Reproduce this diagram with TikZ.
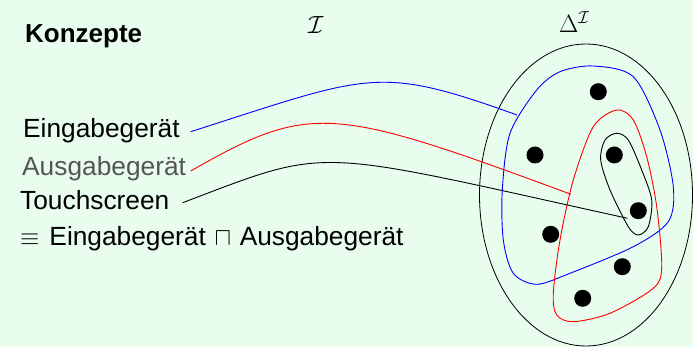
\documentclass[tikz,border=0pt]{standalone}
\usepackage{fontspec}
\setmainfont{Liberation Sans}
\usepackage{amssymb}
\definecolor{bgmint}{RGB}{232,253,238}
\definecolor{greytext}{RGB}{85,85,85}
\begin{document}
\begin{tikzpicture}[x=1pt,y=-1pt,
  lbl/.style={anchor=base west,inner sep=0pt,font=\fontsize{26.3}{30}\selectfont},
  dotnode/.style={circle,fill=black,inner sep=0pt,minimum size=17pt},
  conn/.style={line width=0.9pt},
  region/.style={line width=0.9pt}]
\fill[bgmint] (0,0) rectangle (693,347);
\useasboundingbox (0,0) rectangle (693,347);
% titles
\node[lbl,font=\fontsize{26}{30}\selectfont\bfseries] (konz) at (25,43) {Konzepte};
\node[lbl] (interp) at (308,34) {$\mathcal{I}$};
\node[lbl] (delta) at (559,33) {$\Delta^{\mathcal{I}}$};
% labels
\node[lbl] (eg) at (23,137.3) {Eingabegerät};
\node[lbl,text=greytext] (ag) at (22,175.3) {Ausgabegerät};
\node[lbl] (ts) at (20,210) {Touchscreen};
\node[lbl] (eq) at (20,245.3) {$\equiv$\hspace{0.1em} Eingabegerät\hspace{0.05em} $\sqcap$\hspace{0.05em} Ausgabegerät};
% domain
\draw[line width=0.8pt] (586,195) ellipse [x radius=106.5, y radius=151];
\draw[region,blue] plot[smooth cycle] coordinates {
 (593.3,66) (633.3,76.7) (660,130) (673.3,186.7) (668.3,221.7) (633.3,246.7)
 (570,273.3) (536.7,284.3) (513.3,273.3) (503.3,240) (502.3,190) (510,133.3)
 (536.7,90) (560,71.7)};
\draw[region,red] plot[smooth cycle] coordinates {
 (616.7,110) (633.3,120) (646.7,156.7) (656.7,206.7) (661.7,266.7) (653.3,288.3)
 (610,313.3) (573.3,321.7) (556.7,315) (553.3,293.3) (560,240) (573.3,180)
 (593.3,126.7)};
\draw[region,black] plot[smooth cycle] coordinates {
 (616.7,133.3) (628.3,140) (641.7,170) (651.7,200) (648.3,226.7) (638.3,235)
 (628.3,226.7) (610,190) (600.7,160) (605,140)};
% elements
\node[dotnode] (d1) at (598.3,91.7) {};
\node[dotnode] (d2) at (535,155) {};
\node[dotnode] (d3) at (614.3,155) {};
\node[dotnode] (d4) at (638.3,210.7) {};
\node[dotnode] (d5) at (550.7,234.3) {};
\node[dotnode] (d6) at (622.3,266.7) {};
\node[dotnode] (d7) at (582.7,298.3) {};
% connector ends
\coordinate (egs) at (190.7,131.7);
\coordinate (ege) at (517,115);
\coordinate (ags) at (190.7,171);
\coordinate (age) at (571,194.3);
\coordinate (tss) at (182.7,202.7);
\coordinate (tse) at (627.5,218.3);
\draw[conn,blue] (egs) .. controls (370.7,74.1) and (377,64.6) .. (ege);
\draw[conn,red] (ags) .. controls (310.7,102.6) and (331,105.5) .. (age);
\draw[conn,black] (tss) .. controls (332.7,145.7) and (307.5,147.9) .. (tse);
\end{tikzpicture}
\end{document}
